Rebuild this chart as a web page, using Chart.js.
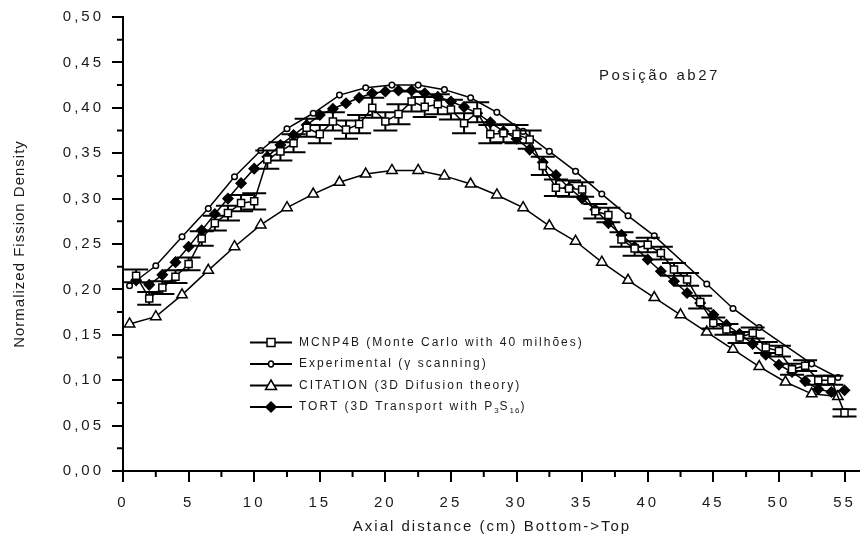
<!DOCTYPE html>
<html><head><meta charset="utf-8">
<script src="https://cdn.jsdelivr.net/npm/chart.js@4.4.0/dist/chart.umd.min.js"></script>
<style>html,body{margin:0;padding:0;background:#fff;}</style>
</head><body>
<canvas id="c" width="868" height="544"></canvas>
<script>
// ---- data ----
const mcnpX = [1,2,3,4,5,6,7,8,9,10,11,12,13,14,15,16,17,18,19,20,21,22,23,24,25,26,27,28,29,30,31,32,33,34,35,36,37,38,39,40,41,42,43,44,45,46,47,48,49,50,51,52,53,54,55];
const mcnpY = [0.215,0.190,0.202,0.214,0.228,0.256,0.273,0.284,0.295,0.297,0.343,0.352,0.361,0.378,0.371,0.385,0.376,0.382,0.400,0.385,0.393,0.407,0.401,0.404,0.398,0.383,0.395,0.371,0.372,0.371,0.365,0.336,0.312,0.311,0.310,0.286,0.282,0.255,0.245,0.249,0.240,0.222,0.211,0.186,0.163,0.156,0.147,0.152,0.136,0.132,0.112,0.116,0.100,0.100,0.064];
const mcnpErr = [0.007,0.007,0.007,0.007,0.007,0.008,0.008,0.008,0.009,0.009,0.010,0.010,0.010,0.010,0.010,0.010,0.010,0.010,0.011,0.010,0.011,0.011,0.011,0.011,0.011,0.011,0.011,0.010,0.010,0.010,0.010,0.010,0.009,0.009,0.008,0.008,0.008,0.008,0.008,0.008,0.007,0.007,0.007,0.007,0.006,0.006,0.006,0.006,0.006,0.006,0.006,0.006,0.005,0.005,0.004];

const expX = [0.5,2.5,4.5,6.5,8.5,10.5,12.5,14.5,16.5,18.5,20.5,22.5,24.5,26.5,28.5,30.5,32.5,34.5,36.5,38.5,40.5,44.5,46.5,48.5,52.5,54.5];
const expY = [0.204,0.226,0.258,0.289,0.324,0.353,0.377,0.394,0.414,0.422,0.425,0.425,0.420,0.411,0.395,0.374,0.352,0.330,0.305,0.281,0.259,0.206,0.179,0.158,0.118,0.103];

const citX = [0.5,2.5,4.5,6.5,8.5,10.5,12.5,14.5,16.5,18.5,20.5,22.5,24.5,26.5,28.5,30.5,32.5,34.5,36.5,38.5,40.5,42.5,44.5,46.5,48.5,50.5,52.5,54.5];
const citY = [0.162,0.170,0.194,0.221,0.247,0.271,0.290,0.305,0.318,0.327,0.331,0.331,0.325,0.316,0.304,0.290,0.270,0.253,0.230,0.210,0.191,0.172,0.153,0.134,0.115,0.098,0.085,0.082];

const tortX = [1,2,3,4,5,6,7,8,9,10,11,12,13,14,15,16,17,18,19,20,21,22,23,24,25,26,27,28,29,30,31,32,33,34,35,36,37,38,39,40,41,42,43,44,45,46,47,48,49,50,51,52,53,54,55];
const tortY = [0.210,0.205,0.216,0.230,0.247,0.265,0.283,0.300,0.317,0.333,0.346,0.359,0.370,0.381,0.392,0.399,0.405,0.411,0.416,0.418,0.419,0.419,0.416,0.412,0.407,0.401,0.394,0.384,0.374,0.366,0.354,0.340,0.326,0.312,0.300,0.288,0.273,0.260,0.247,0.233,0.220,0.209,0.196,0.185,0.172,0.161,0.151,0.140,0.128,0.117,0.109,0.099,0.090,0.087,0.089];

const seriesNames = ['MCNP4B (Monte Carlo with 40 milhões)','Experimental (γ scanning)','CITATION (3D Difusion theory)','TORT (3D Transport with P'];
const xTitle = 'Axial distance (cm) Bottom->Top';
const yTitle = 'Normalized Fission Density';
const note = 'Posição ab27';

const FONT = '"Liberation Sans", Arial, Helvetica, sans-serif';
const pts = (xs, ys) => xs.map((x, i) => ({x: x, y: ys[i]}));

const spacing = {
  id: 'spacing',
  beforeInit(c){ c.ctx.letterSpacing = '3px'; },
  beforeUpdate(c){ c.ctx.letterSpacing = '3px'; },
  beforeDraw(c){ c.ctx.letterSpacing = '3px'; }
};

const errorBars = {
  id: 'errorBars',
  beforeDatasetDraw(c, args){
    if (args.index !== 0) return;
    const ctx = c.ctx, xs = c.scales.x, ys = c.scales.y;
    ctx.save();
    ctx.strokeStyle = '#000'; ctx.lineWidth = 2;
    mcnpX.forEach((xv, i) => {
      const px = xs.getPixelForValue(xv);
      const top = ys.getPixelForValue(mcnpY[i] + mcnpErr[i]);
      const bot = ys.getPixelForValue(mcnpY[i] - mcnpErr[i]);
      ctx.beginPath();
      ctx.moveTo(px, top); ctx.lineTo(px, bot);
      ctx.moveTo(px - 12, top); ctx.lineTo(px + 12, top);
      ctx.moveTo(px - 12, bot); ctx.lineTo(px + 12, bot);
      ctx.stroke();
    });
    ctx.restore();
  }
};

function legendMarker(ctx, kind, x, y){
  ctx.save();
  ctx.strokeStyle = '#000'; ctx.lineWidth = 1.5; ctx.fillStyle = '#fff';
  ctx.beginPath();
  if (kind === 'rect') { ctx.rect(x - 4, y - 4, 8, 8); }
  else if (kind === 'circle') { ctx.ellipse(x, y, 2.5, 3, 0, 0, Math.PI * 2); }
  else if (kind === 'triangle') { ctx.moveTo(x, y - 5.5); ctx.lineTo(x + 5.5, y + 4); ctx.lineTo(x - 5.5, y + 4); ctx.closePath(); }
  else { ctx.fillStyle = '#000'; ctx.moveTo(x, y - 5); ctx.lineTo(x + 5, y); ctx.lineTo(x, y + 5); ctx.lineTo(x - 5, y); ctx.closePath(); }
  ctx.fill(); ctx.stroke();
  ctx.restore();
}

const extras = {
  id: 'extras',
  afterDraw(c){
    const ctx = c.ctx, xs = c.scales.x, ys = c.scales.y;
    const area = c.chartArea;
    ctx.save();
    // minor ticks
    ctx.strokeStyle = '#000'; ctx.lineWidth = 2;
    ctx.beginPath();
    for (let v = 2.5; v < 56; v += 5) {
      const px = xs.getPixelForValue(v);
      ctx.moveTo(px, area.bottom); ctx.lineTo(px, area.bottom + 6);
    }
    for (let v = 0.025; v < 0.5; v += 0.05) {
      const py = ys.getPixelForValue(v);
      ctx.moveTo(area.left, py); ctx.lineTo(area.left - 6, py);
    }
    ctx.stroke();

    ctx.fillStyle = '#1a1a1a';
    // axis titles
    ctx.font = '15px ' + FONT;
    ctx.letterSpacing = '2px';
    ctx.textAlign = 'center'; ctx.textBaseline = 'middle';
    ctx.fillText(xTitle, 492, 527);
    ctx.save();
    ctx.translate(20, 244); ctx.rotate(-Math.PI / 2);
    ctx.letterSpacing = '1px';
    ctx.fillText(yTitle, 0, 0);
    ctx.restore();
    // annotation
    ctx.letterSpacing = '2.5px';
    ctx.textAlign = 'left';
    ctx.fillText(note, 599, 76);

    // legend
    const rows = [342.5, 364, 385.5, 407];
    const kinds = ['rect', 'circle', 'triangle', 'rectRot'];
    ctx.font = '12px ' + FONT;
    ctx.letterSpacing = '2px';
    ctx.textAlign = 'left';
    rows.forEach((ry, i) => {
      ctx.strokeStyle = '#000'; ctx.lineWidth = 2;
      ctx.beginPath(); ctx.moveTo(250, ry); ctx.lineTo(292, ry); ctx.stroke();
      legendMarker(ctx, kinds[i], 271, ry);
      ctx.fillStyle = '#1a1a1a';
      ctx.fillText(seriesNames[i], 299, ry);
    });
    // subscripts for TORT entry
    let tx = 299 + ctx.measureText(seriesNames[3]).width;
    const ry = rows[3];
    ctx.font = '8px ' + FONT; ctx.letterSpacing = '1px';
    ctx.fillText('3', tx, ry + 4); tx += ctx.measureText('3').width;
    ctx.font = '12px ' + FONT; ctx.letterSpacing = '2px';
    ctx.fillText('S', tx, ry); tx += ctx.measureText('S').width;
    ctx.font = '8px ' + FONT; ctx.letterSpacing = '1px';
    ctx.fillText('16', tx, ry + 4); tx += ctx.measureText('16').width;
    ctx.font = '12px ' + FONT; ctx.letterSpacing = '2px';
    ctx.fillText(')', tx, ry);
    ctx.restore();
  }
};

const ds = (label, data, style, radius, bg) => ({
  label, data, pointStyle: style, pointRadius: radius, pointHoverRadius: radius,
  pointBackgroundColor: bg, pointBorderColor: '#000', pointBorderWidth: 1.5,
  borderColor: '#000', borderWidth: 1.5, tension: 0, showLine: true, fill: false
});

new Chart(document.getElementById('c'), {
  type: 'scatter',
  data: {
    datasets: [
      ds(seriesNames[0], pts(mcnpX, mcnpY), 'rect', 5, '#fff'),
      ds(seriesNames[1], pts(expX, expY), 'circle', 2.8, '#fff'),
      ds(seriesNames[2], pts(citX, citY), 'triangle', 6, '#fff'),
      ds('TORT', pts(tortX, tortY), 'rectRot', 5, '#000')
    ]
  },
  options: {
    responsive: false, animation: false, events: [],
    layout: { padding: { top: 14, left: 0, right: 0, bottom: 0 } },
    scales: {
      x: {
        type: 'linear', min: 0, max: 56.1,
        afterFit: s => { s.height = 73; },
        border: { color: '#000', width: 2 },
        grid: { drawOnChartArea: false, tickLength: 11, color: '#000', lineWidth: 2 },
        ticks: { stepSize: 5, includeBounds: false, padding: 12, color: '#1a1a1a', font: { family: FONT, size: 15 },
                 maxRotation: 0, autoSkip: false }
      },
      y: {
        min: 0, max: 0.5,
        afterFit: s => { s.width = 123; },
        border: { color: '#000', width: 2 },
        grid: { drawOnChartArea: false, tickLength: 11, color: '#000', lineWidth: 2 },
        ticks: { stepSize: 0.05, padding: 8, color: '#1a1a1a', font: { family: FONT, size: 15 },
                 callback: v => Number(v).toFixed(2).replace('.', ',') }
      }
    },
    plugins: { legend: { display: false }, tooltip: { enabled: false }, title: { display: false } }
  },
  plugins: [spacing, errorBars, extras]
});
</script>
</body></html>
